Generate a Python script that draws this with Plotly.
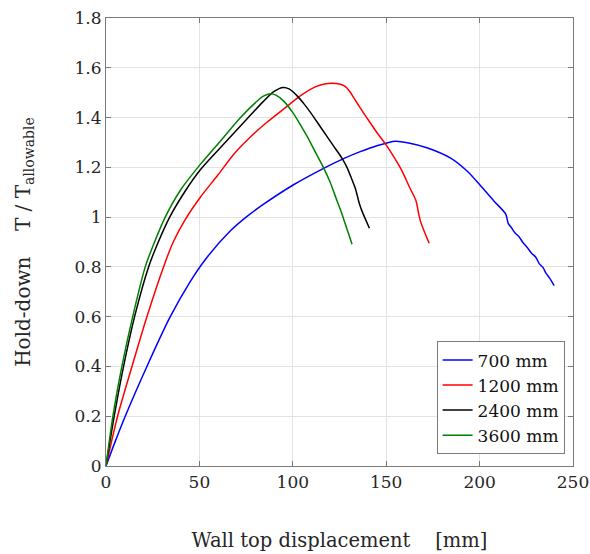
import plotly.graph_objects as go

# Hold-down force ratio vs. wall top displacement for four wall lengths
labels = ["700 mm", "1200 mm", "2400 mm", "3600 mm"]
colors = ["#0000ff", "#ff0000", "#000000", "#008000"]

disp_700 = [0, 5, 10.3, 21.9, 34.4, 45, 53.2, 66.6, 75, 84.4, 100.4, 116.5, 127.2,
            136.1, 145, 150.4, 154.9, 162, 171.8, 184.3, 193.3, 201.5, 208, 214,
            215.3, 217, 219, 221, 223, 225.5, 227.8, 230, 232, 234, 235.5, 237.5, 239.9]
ratio_700 = [0, 0.1, 0.2, 0.4, 0.6, 0.74, 0.83, 0.945, 1.0, 1.052, 1.13, 1.196, 1.235,
             1.263, 1.287, 1.298, 1.305, 1.298, 1.279, 1.238, 1.185, 1.118, 1.062, 1.012,
             0.975, 0.958, 0.936, 0.922, 0.9, 0.878, 0.855, 0.84, 0.812, 0.797, 0.775, 0.755, 0.725]

disp_1200 = [0, 6.2, 13.9, 21.9, 30.8, 36, 42.4, 50.5, 60, 68.3, 77, 86, 96.9, 104, 112,
             117, 121, 125, 128, 130.5, 133, 136, 140, 145, 150.4, 154.5, 158.5, 162.5,
             166, 167.2, 168.3, 170.5, 173]
ratio_1200 = [0, 0.2, 0.4, 0.6, 0.8, 0.9, 0.99, 1.08, 1.17, 1.252, 1.32, 1.38, 1.445, 1.487, 1.523,
              1.535, 1.538, 1.535, 1.525, 1.505, 1.475, 1.44, 1.395, 1.34, 1.285, 1.237, 1.185, 1.12,
              1.065, 1.02, 0.985, 0.94, 0.895]

disp_2400 = [0, 4.4, 9.4, 15.3, 22.8, 28, 34.1, 42, 50.5, 61.2, 70, 78, 84.4, 90, 94.8,
             98, 102.2, 106, 110, 115, 121.4, 126.3, 129, 131.7, 133.5, 135.5, 137, 139, 141]
ratio_2400 = [0, 0.2, 0.4, 0.6, 0.8, 0.9, 1.0, 1.1, 1.19, 1.279, 1.35, 1.415, 1.466, 1.505, 1.521,
              1.515, 1.488, 1.455, 1.415, 1.36, 1.29, 1.237, 1.2, 1.15, 1.115, 1.058, 1.025, 0.99, 0.955]

disp_3600 = [0, 3.7, 8.5, 14.3, 21, 26, 31.7, 40, 50.5, 61.2, 71.9, 80, 84, 88,
             91, 95.1, 100, 104, 107.6, 112, 116.5, 120, 123.7, 126, 128.1, 130, 131.7]
ratio_3600 = [0, 0.2, 0.4, 0.6, 0.8, 0.9, 1.0, 1.11, 1.212, 1.305, 1.399, 1.46, 1.485, 1.496,
              1.49, 1.466, 1.42, 1.372, 1.325, 1.262, 1.198, 1.14, 1.065, 1.02, 0.972, 0.93, 0.891]

series = [(disp_700, ratio_700), (disp_1200, ratio_1200),
          (disp_2400, ratio_2400), (disp_3600, ratio_3600)]

x_ticks = [0, 50, 100, 150, 200, 250]
y_ticks = [0, 0.2, 0.4, 0.6, 0.8, 1, 1.2, 1.4, 1.6, 1.8]

font_family = "DejaVu Serif"

fig = go.Figure()
for (xs, ys), name, col in zip(series, labels, colors):
    fig.add_trace(go.Scatter(x=xs, y=ys, mode="lines", name=name,
                             line=dict(color=col, width=1.5, shape="spline", smoothing=0.8)))

axis_common = dict(
    showgrid=True, gridcolor="#e3e3e3", gridwidth=1,
    showline=True, linecolor="#7a7a7a", linewidth=1.2, mirror="ticks",
    ticks="inside", ticklen=5, tickcolor="#7a7a7a", tickwidth=1,
    zeroline=False,
    tickfont=dict(family=font_family, size=17, color="#262626"),
)

fig.update_layout(
    width=590, height=554,
    margin=dict(l=106, r=17, t=18, b=88),
    paper_bgcolor="white", plot_bgcolor="white",
    font=dict(family=font_family, color="#262626"),
    xaxis=dict(range=[0, 250], tickvals=x_ticks, automargin=False,
               title=dict(text="Wall top displacement &#160;&#160;&#160;[mm]",
                          font=dict(family=font_family, size=19.5), standoff=42),
               **axis_common),
    yaxis=dict(range=[0, 1.8], tickvals=y_ticks, automargin=False,
               title=dict(text="Hold-down &#160;&#160;&#160;T / T<sub>allowable</sub>",
                          font=dict(family=font_family, size=20), standoff=38),
               **axis_common),
    legend=dict(x=0.982, y=0.026, xanchor="right", yanchor="bottom",
                bgcolor="white", bordercolor="#7a7a7a", borderwidth=1,
                font=dict(family=font_family, size=17, color="#111111"),
                itemwidth=30, tracegroupgap=0),
    showlegend=True,
)

fig.write_html("out.html")
